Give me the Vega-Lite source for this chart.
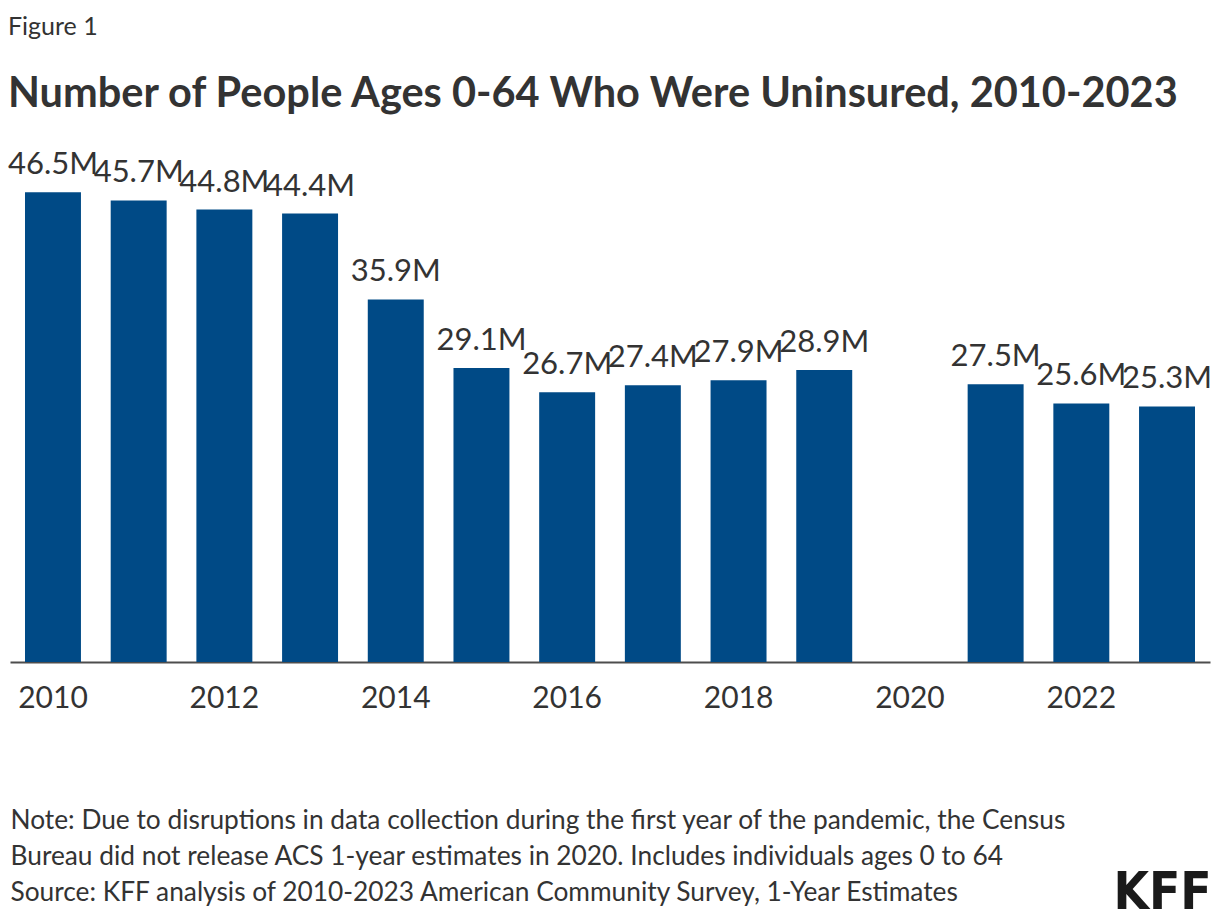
{
  "$schema": "https://vega.github.io/schema/vega-lite/v6.json",
  "autosize": {"type": "none"},
  "width": 1200,
  "height": 505,
  "padding": {"left": 10, "top": 157, "right": 10, "bottom": 262},
  "background": "white",
  "config": {
    "view": {"stroke": null},
    "font": "Lato"
  },
  "title": {
    "text": "Figure 1",
    "subtitle": "Number of People Ages 0-64 Who Were Uninsured, 2010-2023",
    "anchor": "start",
    "font": "Lato",
    "fontSize": 25,
    "fontWeight": "normal",
    "color": "#333333",
    "subtitleFont": "Lato",
    "subtitleFontSize": 41.5,
    "subtitleFontWeight": "bold",
    "subtitleColor": "#333333",
    "subtitlePadding": 34,
    "offset": 34
  },
  "data": {
    "values": [
      {"year": "2010", "value": 46.5, "label": "46.5M"},
      {"year": "2011", "value": 45.7, "label": "45.7M"},
      {"year": "2012", "value": 44.8, "label": "44.8M"},
      {"year": "2013", "value": 44.4, "label": "44.4M"},
      {"year": "2014", "value": 35.9, "label": "35.9M"},
      {"year": "2015", "value": 29.1, "label": "29.1M"},
      {"year": "2016", "value": 26.7, "label": "26.7M"},
      {"year": "2017", "value": 27.4, "label": "27.4M"},
      {"year": "2018", "value": 27.9, "label": "27.9M"},
      {"year": "2019", "value": 28.9, "label": "28.9M"},
      {"year": "2021", "value": 27.5, "label": "27.5M"},
      {"year": "2022", "value": 25.6, "label": "25.6M"},
      {"year": "2023", "value": 25.3, "label": "25.3M"}
    ]
  },
  "encoding": {
    "x": {
      "field": "year",
      "type": "ordinal",
      "scale": {
        "domain": ["2010","2011","2012","2013","2014","2015","2016","2017","2018","2019","2020","2021","2022","2023"],
        "paddingInner": 0.347,
        "paddingOuter": 0.175
      },
      "axis": {
        "values": ["2010","2012","2014","2016","2018","2020","2022"],
        "labelAngle": 0,
        "labelFont": "Lato",
        "labelFontSize": 30,
        "labelColor": "#333333",
        "labelPadding": 21,
        "ticks": false,
        "domainColor": "#4d4d4d",
        "domainWidth": 2,
        "title": [
          "Note: Due to disruptions in data collection during the first year of the pandemic, the Census",
          "Bureau did not release ACS 1-year estimates in 2020. Includes individuals ages 0 to 64",
          "Source: KFF analysis of 2010-2023 American Community Survey, 1-Year Estimates"
        ],
        "titleFont": "Lato",
        "titleFontSize": 26.3,
        "titleFontWeight": "normal",
        "titleColor": "#333333",
        "titleAnchor": "start",
        "titleAlign": "left",
        "titleX": 0,
        "titlePadding": 94,
        "titleLineHeight": 36
      }
    },
    "y": {
      "field": "value",
      "type": "quantitative",
      "scale": {"domain": [0, 50]},
      "axis": {
        "orient": "right",
        "labels": false,
        "ticks": false,
        "domain": false,
        "grid": false,
        "title": "KFF",
        "titleAngle": 0,
        "titleFont": "DejaVu Sans Condensed",
        "titleFontWeight": "bold",
        "titleFontSize": 51,
        "titleColor": "#1a1a1a",
        "titleAlign": "center",
        "titleBaseline": "middle",
        "titleX": -48,
        "titleY": 736
      }
    }
  },
  "layer": [
    {
      "mark": {"type": "bar", "color": "#004A86"}
    },
    {
      "mark": {"type": "text", "font": "Lato", "fontSize": 31, "color": "#333333", "baseline": "alphabetic", "dy": -18},
      "encoding": {"text": {"field": "label"}}
    }
  ]
}
